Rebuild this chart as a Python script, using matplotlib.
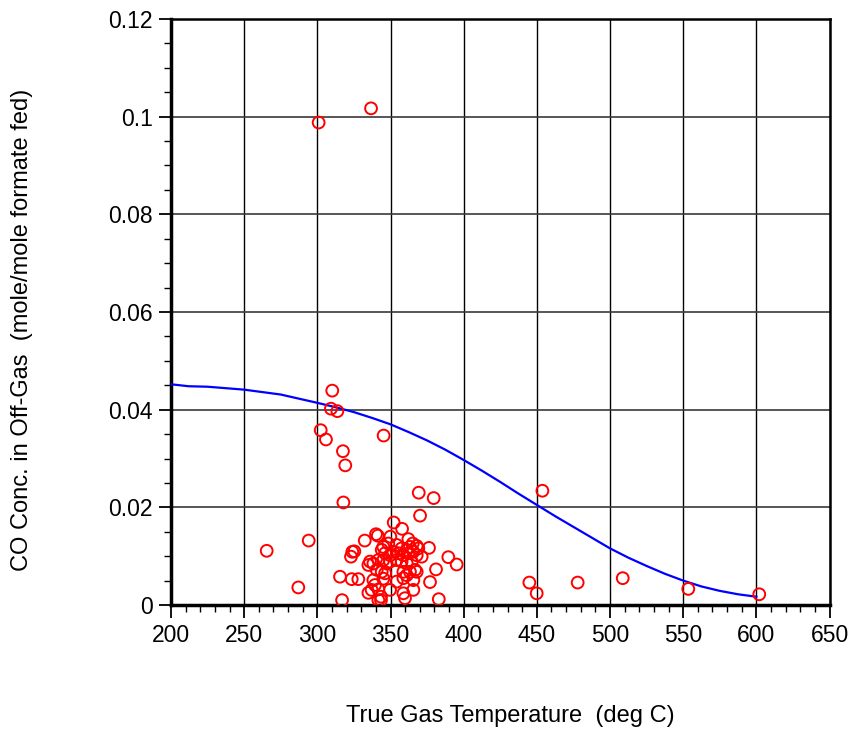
import matplotlib
matplotlib.use("Agg")
import matplotlib.pyplot as plt
from matplotlib.ticker import MultipleLocator

plt.rcParams['font.family'] = ['Liberation Sans', 'DejaVu Sans']

# measured points (deg C, mole/mole)
temp = [300.9, 336.7, 310.2, 309.3, 313.7, 302.3, 305.9, 345.3, 317.5, 319.1,
        317.8, 369.3, 379.5, 370.2, 294.1, 265.4, 287.0, 315.5, 316.9, 323.5,
        328.0, 323.9, 325.3, 323.0, 332.4, 352.2, 357.9, 340.1, 341.3, 349.9,
        376.3, 381.1, 377.0, 383.0, 389.5, 395.2, 453.8, 444.9, 449.9, 477.9,
        508.7, 553.5, 602.0,
        362.2, 365.2, 367.9, 363.3, 361.1, 357.6, 354.2, 348.5, 345.1, 344.0,
        346.3, 349.7, 352.0, 355.4, 358.8, 362.2, 365.6, 369.0, 371.3, 367.9,
        336.0, 338.3, 334.9, 341.7, 345.1, 347.4, 349.7, 354.2, 357.6, 361.1,
        364.5, 366.8, 367.9, 363.3, 358.8, 340.6, 344.0, 346.3, 345.1, 338.3,
        339.4, 337.1, 334.9, 341.7, 349.7, 354.2, 358.8, 361.1, 365.6, 365.6,
        358.8, 359.9, 341.7, 343.5, 343.5]
co_conc = [0.0988, 0.1017, 0.0439, 0.0402, 0.0397, 0.0358, 0.0339, 0.0347, 0.0315, 0.0286,
           0.0210, 0.0230, 0.0219, 0.0183, 0.0132, 0.0111, 0.0036, 0.0058, 0.0010, 0.0053,
           0.0053, 0.0109, 0.0110, 0.0099, 0.0132, 0.0169, 0.0156, 0.0145, 0.0142, 0.0140,
           0.0117, 0.0073, 0.0047, 0.0012, 0.0098, 0.0083, 0.0234, 0.0046, 0.0024, 0.0046,
           0.0055, 0.0033, 0.0022,
           0.0135, 0.0126, 0.0121, 0.0119, 0.0113, 0.0116, 0.0123, 0.0126, 0.0119, 0.0113,
           0.0106, 0.0102, 0.0109, 0.0106, 0.0102, 0.0106, 0.0109, 0.0116, 0.0099, 0.0102,
           0.0089, 0.0085, 0.0082, 0.0092, 0.0092, 0.0085, 0.0089, 0.0092, 0.0089, 0.0085,
           0.0089, 0.0072, 0.0068, 0.0068, 0.0068, 0.0072, 0.0068, 0.0065, 0.0054, 0.0051,
           0.0041, 0.0031, 0.0025, 0.0032, 0.0031, 0.0048, 0.0055, 0.0061, 0.0051, 0.0031,
           0.0024, 0.0014, 0.0010, 0.0010, 0.0017]

# model curve
fit_t = [200, 212, 225, 250, 275, 300, 312.5, 325, 337.5, 350, 362.5, 375, 387.5,
         400, 412.5, 425, 437.5, 450, 462.5, 475, 487.5, 500, 512.5, 525, 537.5,
         550, 562.5, 575, 587.5, 600]
fit_co = [0.0452, 0.0448, 0.0447, 0.0441, 0.0431, 0.0414, 0.0405, 0.0395, 0.0383,
          0.0370, 0.0354, 0.0337, 0.0318, 0.0297, 0.0275, 0.0252, 0.0228, 0.0205,
          0.0182, 0.0160, 0.0138, 0.0116, 0.0097, 0.0080, 0.0064, 0.0050, 0.0038,
          0.0029, 0.0022, 0.0017]

fig = plt.figure(figsize=(8.52, 7.3), dpi=100)
ax = fig.add_axes([0.2007, 0.1712, 0.7729, 0.8028])

ax.plot(fit_t, fit_co, color='#0000ff', lw=1.6, zorder=3)
ax.scatter(temp, co_conc, s=72, facecolors='none', edgecolors='#ff0000',
           linewidths=1.4, zorder=4)

ax.set_xlim(200, 650)
ax.set_ylim(0, 0.12)
ax.xaxis.set_major_locator(MultipleLocator(50))
ax.xaxis.set_minor_locator(MultipleLocator(10))
ax.yaxis.set_minor_locator(MultipleLocator(0.005))
ax.set_yticks([0, 0.02, 0.04, 0.06, 0.08, 0.1, 0.12])
ax.set_yticklabels(['0', '0.02', '0.04', '0.06', '0.08', '0.1', '0.12'])

ax.xaxis.grid(True, which='major', color='black', lw=1.0)
ax.yaxis.grid(True, which='major', color='#3a3a3a', lw=1.2)
ax.tick_params(which='major', direction='out', length=9, width=1.3, labelsize=16.5)
ax.tick_params(axis='x', which='major', pad=5)
ax.tick_params(axis='y', which='major', pad=4)
ax.tick_params(which='minor', direction='out', length=5, width=1)
for s in ax.spines.values():
    s.set_linewidth(1.8)
ax.spines['bottom'].set_linewidth(2.5)
ax.spines['left'].set_linewidth(2.5)

ax.set_xlabel('True Gas Temperature  (deg C)', fontsize=17)
ax.set_ylabel('CO Conc. in Off-Gas  (mole/mole formate fed)', fontsize=17)
ax.xaxis.set_label_coords(0.5156, -0.171)
ax.yaxis.set_label_coords(-0.21, 0.469)

fig.savefig('out.png', dpi=100)
